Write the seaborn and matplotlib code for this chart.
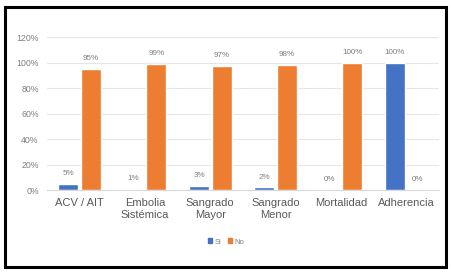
import pandas as pd
import seaborn as sns
import matplotlib.pyplot as plt
from matplotlib.patches import Rectangle

# datos
categorias = ['ACV / AIT', 'Embolia\nSistémica', 'Sangrado\nMayor', 'Sangrado\nMenor', 'Mortalidad', 'Adherencia']
si = [5, 1, 3, 2, 0, 100]
no = [95, 99, 97, 98, 100, 0]
series = ['Si', 'No']
colores = ['#4472C4', '#ED7D31']

df = pd.DataFrame({
    'cat': categorias * 2,
    'serie': ['Si'] * len(si) + ['No'] * len(no),
    'valor': si + no,
})

sns.set_style('white')
plt.rcParams['font.family'] = ['Liberation Sans', 'DejaVu Sans']

fig = plt.figure(figsize=(4.52, 2.75), dpi=100)
ax = fig.add_axes([0.104, 0.309, 0.867, 0.556])

sns.barplot(data=df, x='cat', y='valor', hue='serie', hue_order=series,
            palette=colores, saturation=1, width=0.69, gap=0.11, ax=ax, legend=False)

ax.set_ylim(0, 120)
ax.set_xlim(-0.5, 5.5)
ax.set_yticks(range(0, 121, 20))
ax.set_yticklabels([f'{v}%' for v in range(0, 121, 20)], fontsize=6.3, color='#7f7f7f')
ax.set_xticks(range(len(categorias)))
ax.set_xticklabels(categorias, fontsize=8, color='#595959', linespacing=1.15)
ax.tick_params(axis='both', length=0, pad=6)
ax.set_xlabel('')
ax.set_ylabel('')
ax.grid(axis='y', color='#e6e6e6', linewidth=0.8)
ax.set_axisbelow(True)
for s in ['top', 'right', 'left']:
    ax.spines[s].set_visible(False)
ax.spines['bottom'].set_color('#d9d9d9')

# etiquetas de datos
for cont in ax.containers:
    for bar in cont:
        h = bar.get_height()
        ax.annotate(f'{h:.0f}%', (bar.get_x() + bar.get_width() / 2, h),
                    xytext=(0, 5), textcoords='offset points',
                    ha='center', va='bottom', fontsize=5.8, color='#7f7f7f')

# leyenda
handles = [Rectangle((0, 0), 1, 1, color=c) for c in colores]
fig.legend(handles, series, loc='center', bbox_to_anchor=(0.5, 0.12), ncol=2,
           frameon=False, fontsize=5.5, handlelength=0.6, handleheight=0.6,
           columnspacing=0.8, handletextpad=0.3, labelcolor='#7f7f7f')

# marco
fig.patches.append(Rectangle((0.012, 0.03), 0.975, 0.945, transform=fig.transFigure,
                             fill=False, edgecolor='black', linewidth=2.2))

fig.savefig('out.png', dpi=100)
